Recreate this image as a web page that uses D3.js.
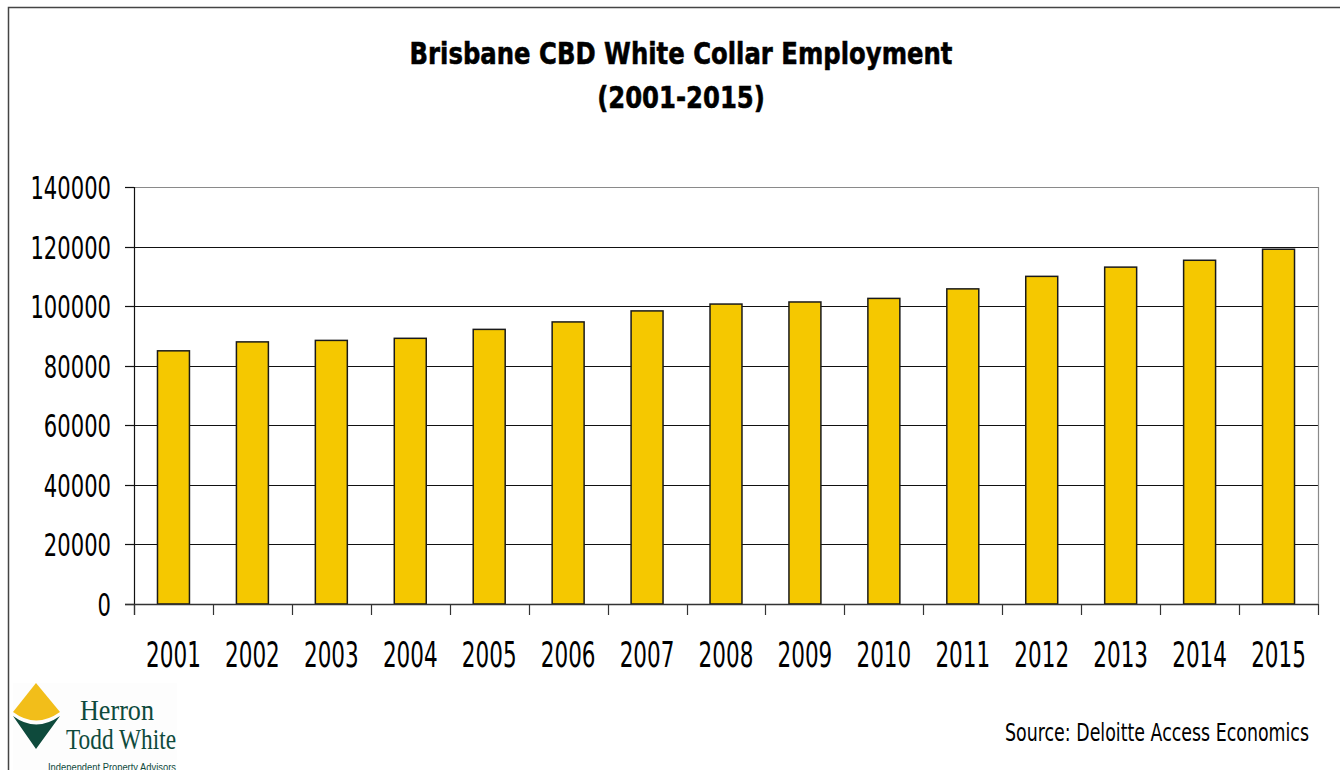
<!DOCTYPE html>
<html>
<head>
<meta charset="utf-8">
<script src="https://cdn.jsdelivr.net/npm/d3@7/dist/d3.min.js"></script>
<style>
  html, body { margin: 0; padding: 0; background: #fff; }
  svg { display: block; }
</style>
</head>
<body>
<svg id="chart" width="1340" height="770"></svg>
<script>
// Brisbane CBD white collar employment, 2001-2015
const years = ["2001","2002","2003","2004","2005","2006","2007","2008","2009","2010","2011","2012","2013","2014","2015"];
const employment = [85000, 88000, 88500, 89200, 92200, 94700, 98400, 100700, 101400, 102600, 105800, 110000, 113100, 115400, 119100];
const yTicks = [0, 20000, 40000, 60000, 80000, 100000, 120000, 140000];
const titleLines = ["Brisbane CBD White Collar Employment", "(2001-2015)"];
const sourceNote = "Source: Deloitte Access Economics";

const svg = d3.select("#chart");
const FONT = "'DejaVu Sans', Verdana, sans-serif";

const plot = { left: 134, right: 1318, top: 187, bottom: 604 };

const x = d3.scaleBand()
  .domain(years)
  .range([plot.left, plot.right])
  .paddingInner(0.595)
  .paddingOuter(0.2975);

const y = d3.scaleLinear()
  .domain([0, 140000])
  .range([plot.bottom, plot.top]);

// horizontally condensed text: draws at (px,py) with glyphs squeezed by sx
function condensedText(g, str, px, py, size, sx, anchor, weight) {
  return g.append("text")
    .attr("transform", `translate(${px},${py}) scale(${sx},1)`)
    .attr("text-anchor", anchor)
    .attr("font-family", FONT)
    .attr("font-size", size)
    .attr("font-weight", weight || "normal")
    .attr("fill", "#000")
    .text(str);
}

// outer frame (top and left edges)
svg.append("path")
  .attr("d", "M8.5,770 V7.5 H1340")
  .attr("fill", "none")
  .attr("stroke", "#444")
  .attr("stroke-width", 1.5);

// title
const titleG = svg.append("g");
titleLines.forEach((line, i) => {
  condensedText(titleG, line, 681, 64 + i * 44, 31, 0.785, "middle", "bold")
    .attr("stroke", "#000").attr("stroke-width", 0.6);
});

// gridlines
svg.append("g")
  .selectAll("line")
  .data(yTicks.filter(t => t > 0 && t < 140000))
  .join("line")
  .attr("x1", plot.left).attr("x2", plot.right)
  .attr("y1", d => Math.round(y(d)) + 0.5).attr("y2", d => Math.round(y(d)) + 0.5)
  .attr("stroke", "#111").attr("stroke-width", 1);

// plot area border (top and right)
svg.append("path")
  .attr("d", `M${plot.left},${plot.top + 0.5} H${plot.right + 0.5} V${plot.bottom}`)
  .attr("fill", "none")
  .attr("stroke", "#8a8a8a")
  .attr("stroke-width", 1.2);

// bars
svg.append("g")
  .selectAll("rect")
  .data(years.map((yr, i) => ({ yr, v: employment[i] })))
  .join("rect")
  .attr("x", d => x(d.yr))
  .attr("y", d => y(d.v))
  .attr("width", x.bandwidth())
  .attr("height", d => y(0) - y(d.v))
  .attr("fill", "#F5C800")
  .attr("stroke", "#1a1a1a")
  .attr("stroke-width", 1.5);

// y axis
const yAxis = svg.append("g");
yAxis.append("line")
  .attr("x1", plot.left + 0.5).attr("x2", plot.left + 0.5)
  .attr("y1", plot.top).attr("y2", plot.bottom + 11)
  .attr("stroke", "#111").attr("stroke-width", 1.2);
yAxis.selectAll("line.tick")
  .data(yTicks)
  .join("line")
  .attr("class", "tick")
  .attr("x1", plot.left - 9).attr("x2", plot.left)
  .attr("y1", d => Math.round(y(d)) + 0.5).attr("y2", d => Math.round(y(d)) + 0.5)
  .attr("stroke", "#111").attr("stroke-width", 1.2);
yTicks.forEach(t => {
  condensedText(yAxis, String(t), 111, y(t) + 12, 32.5, 0.65, "end");
});

// x axis
const xAxis = svg.append("g");
xAxis.append("line")
  .attr("x1", plot.left - 9).attr("x2", plot.right)
  .attr("y1", plot.bottom + 0.5).attr("y2", plot.bottom + 0.5)
  .attr("stroke", "#333").attr("stroke-width", 1.5);
const bounds = years.map(d => x(d) - x.step() * x.paddingInner() / 2).concat([plot.right]);
xAxis.selectAll("line.tick")
  .data(bounds)
  .join("line")
  .attr("class", "tick")
  .attr("x1", d => Math.round(d) + 0.5).attr("x2", d => Math.round(d) + 0.5)
  .attr("y1", plot.bottom).attr("y2", plot.bottom + 11)
  .attr("stroke", "#333").attr("stroke-width", 1.2);
years.forEach(yr => {
  condensedText(xAxis, yr, x(yr) + x.bandwidth() / 2, 667, 35, 0.615, "middle");
});

// source note
condensedText(svg, sourceNote, 1309, 741, 24.7, 0.705, "end");

// company logo
const logo = svg.append("g");
logo.append("rect")
  .attr("x", 13).attr("y", 683).attr("width", 164).attr("height", 87)
  .attr("fill", "#fdfdfd");
logo.append("path")
  .attr("d", "M36,683 L60,712 Q36,729 13,712 Z")
  .attr("fill", "#F2BE1A");
logo.append("path")
  .attr("d", "M13,716 Q36,733 60,716 L36,749 Z")
  .attr("fill", "#0E4A3C");
logo.append("text")
  .attr("x", 80).attr("y", 720)
  .attr("font-family", "'Liberation Serif', 'Times New Roman', serif")
  .attr("font-size", 30)
  .attr("fill", "#0E4A3C")
  .attr("textLength", 74).attr("lengthAdjust", "spacingAndGlyphs")
  .text("Herron");
logo.append("text")
  .attr("x", 66).attr("y", 749)
  .attr("font-family", "'Liberation Serif', 'Times New Roman', serif")
  .attr("font-size", 30)
  .attr("fill", "#0E4A3C")
  .attr("textLength", 110).attr("lengthAdjust", "spacingAndGlyphs")
  .text("Todd White");
logo.append("text")
  .attr("x", 48).attr("y", 771)
  .attr("font-family", "'Liberation Sans', Arial, sans-serif")
  .attr("font-size", 11.5)
  .attr("fill", "#0E4A3C")
  .attr("textLength", 128).attr("lengthAdjust", "spacingAndGlyphs")
  .text("Independent Property Advisors");
</script>
</body>
</html>
